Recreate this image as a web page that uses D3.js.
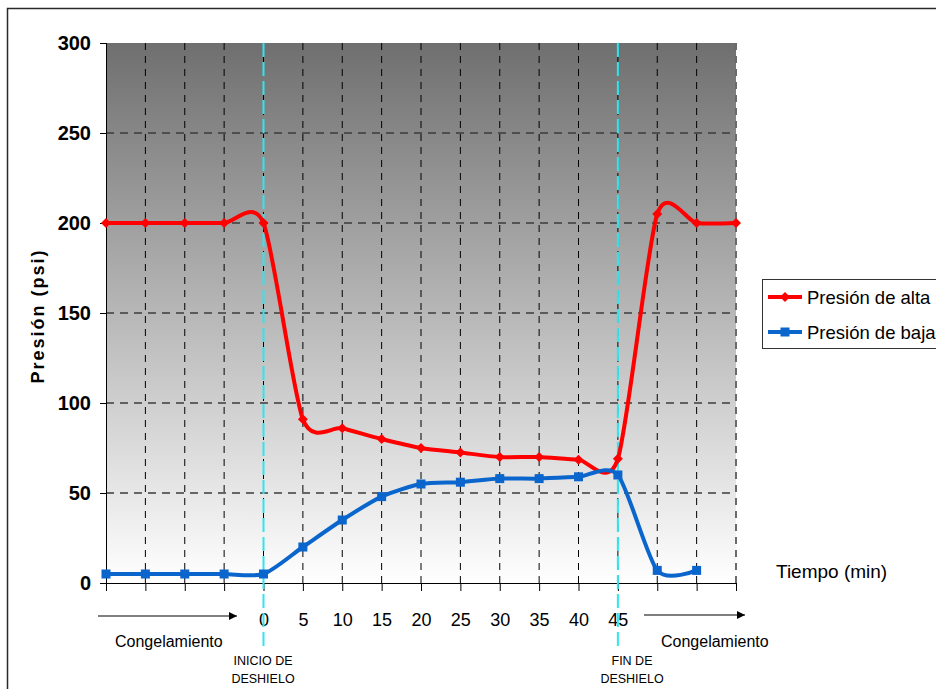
<!DOCTYPE html>
<html>
<head>
<meta charset="utf-8">
<script src="https://cdn.jsdelivr.net/npm/d3@7"></script>
<style>
  html, body { margin: 0; padding: 0; background: #fff; }
  svg { display: block; font-family: Arial, "Liberation Sans", sans-serif; }
</style>
</head>
<body>
<svg id="chart" width="936" height="689"></svg>
<script>
// Categories along the time axis: four freezing steps, the defrost minutes, then three freezing steps
const categories = ["F1", "F2", "F3", "F4", "0", "5", "10", "15", "20", "25", "30", "35", "40", "45", "F5", "F6", "F7"];
const timeLabels = ["", "", "", "", "0", "5", "10", "15", "20", "25", "30", "35", "40", "45", "", "", ""];
const altaValues = [200, 200, 200, 200, 200, 91, 86, 80, 75, 72.5, 70, 70, 68.5, 69, 205, 200, 200];
const bajaValues = [5, 5, 5, 5, 5, 20, 35, 48, 55, 56, 58, 58, 59, 60, 7, 7];
const yTicks = [0, 50, 100, 150, 200, 250, 300];
const seriesNames = ["Presión de alta", "Presión de baja"];
const defrostMarks = ["0", "45"];

const svg = d3.select("#chart");
const plot = { left: 106, right: 736, top: 43, bottom: 583 };

const x = d3.scalePoint().domain(categories).range([plot.left, plot.right]);
const y = d3.scaleLinear().domain([0, 300]).range([plot.bottom, plot.top]);

// outer chart frame
svg.append("rect")
  .attr("x", 7.5).attr("y", 8.5).attr("width", 1000).attr("height", 1000)
  .attr("fill", "none").attr("stroke", "#2a2a2a").attr("stroke-width", 1.5);

// plot background gradient
const defs = svg.append("defs");
const grad = defs.append("linearGradient").attr("id", "bg")
  .attr("x1", 0).attr("y1", 0).attr("x2", 0).attr("y2", 1);
grad.append("stop").attr("offset", "0%").attr("stop-color", "#6f6f6f");
grad.append("stop").attr("offset", "100%").attr("stop-color", "#ffffff");

defs.append("marker").attr("id", "arrow")
  .attr("viewBox", "0 0 10 10").attr("refX", 10).attr("refY", 5)
  .attr("markerWidth", 10).attr("markerHeight", 8).attr("markerUnits", "userSpaceOnUse")
  .attr("orient", "auto")
  .append("path").attr("d", "M0,0L10,5L0,10Z").attr("fill", "#000");

svg.append("rect")
  .attr("x", plot.left).attr("y", plot.top)
  .attr("width", plot.right - plot.left).attr("height", plot.bottom - plot.top)
  .attr("fill", "url(#bg)");

// horizontal gridlines
svg.append("g").selectAll("line")
  .data(yTicks.filter(v => v > 0 && v < 300))
  .join("line")
  .attr("x1", plot.left).attr("x2", plot.right)
  .attr("y1", d => y(d)).attr("y2", d => y(d))
  .attr("stroke", "#3c3c3c").attr("stroke-width", 1.5)
  .attr("stroke-dasharray", "8,6");

// vertical gridlines
svg.append("g").selectAll("line")
  .data(categories.slice(1))
  .join("line")
  .attr("x1", d => x(d)).attr("x2", d => x(d))
  .attr("y1", plot.top).attr("y2", plot.bottom)
  .attr("stroke", (d, i) => i === categories.length - 2 ? "#6a6a6a" : "#000")
  .attr("stroke-width", (d, i) => i === categories.length - 2 ? 2 : 1)
  .attr("stroke-dasharray", "7,6");

// y axis
const yAxis = svg.append("g")
  .attr("transform", `translate(${plot.left},0)`)
  .call(d3.axisLeft(y).tickValues(yTicks).tickSize(6).tickPadding(9));
yAxis.select(".domain").attr("stroke", "#000").attr("d", `M0.5,${plot.top}V${plot.bottom}`);
yAxis.selectAll(".tick line").attr("stroke", "#000");
yAxis.selectAll(".tick text")
  .attr("font-size", 20).attr("font-weight", "bold").attr("fill", "#000")
  .attr("font-family", "Arial, 'Liberation Sans', sans-serif");

// x axis
const xAxis = svg.append("g")
  .attr("transform", `translate(0,${plot.bottom})`)
  .call(d3.axisBottom(x).tickSize(8).tickFormat((d, i) => timeLabels[i]).tickPadding(22));
xAxis.select(".domain").attr("stroke", "#000").attr("d", `M${plot.left},0.5H${plot.right}`);
xAxis.selectAll(".tick line").attr("stroke", "#000");
xAxis.selectAll(".tick text")
  .attr("font-size", 18).attr("fill", "#000")
  .attr("font-family", "Arial, 'Liberation Sans', sans-serif");

// defrost start / end markers
svg.append("g").selectAll("line")
  .data(defrostMarks)
  .join("line")
  .attr("x1", d => x(d)).attr("x2", d => x(d))
  .attr("y1", plot.top).attr("y2", 648)
  .attr("stroke", "#2ee6ee").attr("stroke-width", 2)
  .attr("stroke-dasharray", "14,5");

// series, smoothed
const curve = d3.curveCardinal.tension(0.25);
const series = [
  { name: seriesNames[0], values: altaValues, color: "#ff0000", shape: "diamond" },
  { name: seriesNames[1], values: bajaValues, color: "#0a66cc", shape: "square" }
];
const line = d3.line().x((d, i) => x(categories[i])).y(d => y(d)).curve(curve);

function drawMarker(g, shape, color, cx, cy) {
  if (shape === "diamond") {
    g.append("path")
      .attr("d", `M${cx},${cy - 5}L${cx + 5},${cy}L${cx},${cy + 5}L${cx - 5},${cy}Z`)
      .attr("fill", color);
  } else {
    g.append("rect")
      .attr("x", cx - 4.5).attr("y", cy - 4.5).attr("width", 9).attr("height", 9)
      .attr("fill", color);
  }
}

series.forEach(s => {
  const g = svg.append("g");
  g.append("path").datum(s.values)
    .attr("d", line)
    .attr("fill", "none").attr("stroke", s.color).attr("stroke-width", 4)
    .attr("stroke-linejoin", "round").attr("stroke-linecap", "round");
  s.values.forEach((v, i) => drawMarker(g, s.shape, s.color, x(categories[i]), y(v)));
});

// legend
const legend = svg.append("g");
legend.append("rect")
  .attr("x", 762.5).attr("y", 279.5).attr("width", 200).attr("height", 69)
  .attr("fill", "#fff").attr("stroke", "#333").attr("stroke-width", 1);
series.forEach((s, i) => {
  const ly = 297 + i * 35;
  legend.append("line")
    .attr("x1", 768).attr("x2", 802).attr("y1", ly).attr("y2", ly)
    .attr("stroke", s.color).attr("stroke-width", 4);
  drawMarker(legend, s.shape, s.color, 785, ly);
  legend.append("text")
    .attr("x", 807).attr("y", ly + 6.5)
    .attr("font-size", 18.5).attr("fill", "#000")
    .text(s.name);
});

// axis titles
svg.append("text")
  .attr("transform", "translate(44,316) rotate(-90)")
  .attr("text-anchor", "middle")
  .attr("font-size", 18).attr("font-weight", "bold")
  .attr("letter-spacing", 2)
  .text("Presión (psi)");

svg.append("text")
  .attr("x", 776).attr("y", 578)
  .attr("font-size", 19)
  .text("Tiempo (min)");

// freezing phase arrows
svg.append("line")
  .attr("x1", 98).attr("x2", 237).attr("y1", 616).attr("y2", 616)
  .attr("stroke", "#000").attr("stroke-width", 1.2).attr("marker-end", "url(#arrow)");
svg.append("line")
  .attr("x1", 644).attr("x2", 745).attr("y1", 615).attr("y2", 615)
  .attr("stroke", "#000").attr("stroke-width", 1.2).attr("marker-end", "url(#arrow)");

svg.append("text").attr("x", 115).attr("y", 647).attr("font-size", 16).text("Congelamiento");
svg.append("text").attr("x", 661).attr("y", 647).attr("font-size", 16).text("Congelamiento");

// defrost labels
const defrostLabels = [["INICIO DE", "DESHIELO"], ["FIN DE", "DESHIELO"]];
const defrostLabelX = [263, 632];
defrostLabels.forEach((lines, k) => {
  lines.forEach((t, j) => {
    svg.append("text")
      .attr("x", defrostLabelX[k]).attr("y", 665 + j * 18)
      .attr("text-anchor", "middle")
      .attr("font-size", 12.5)
      .text(t);
  });
});
</script>
</body>
</html>
